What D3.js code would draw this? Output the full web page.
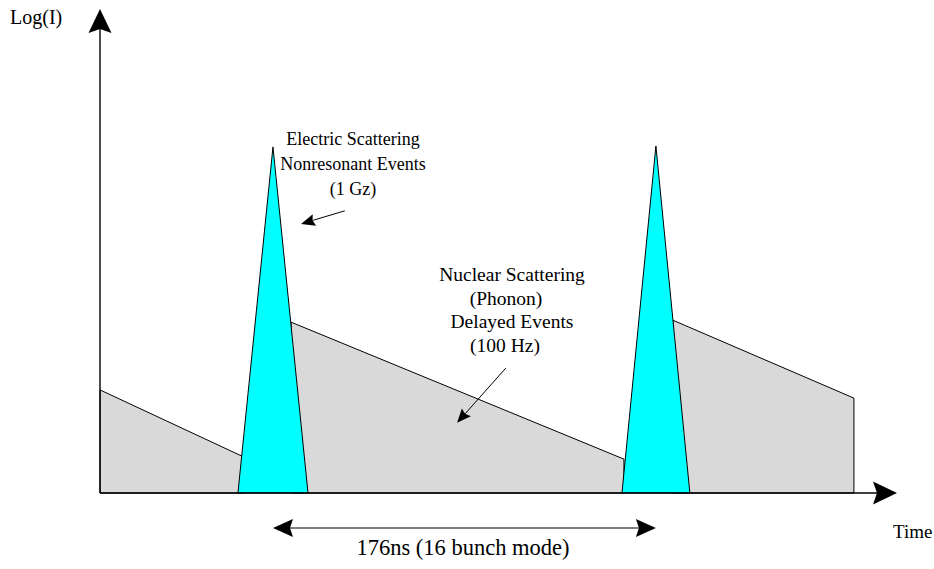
<!DOCTYPE html>
<html>
<head>
<meta charset="utf-8">
<script src="https://cdn.jsdelivr.net/npm/d3@7"></script>
<style>
  html, body { margin: 0; padding: 0; background: #fff; }
  svg { display: block; }
  text { font-family: "Liberation Serif", "Times New Roman", Times, serif; fill: #000; }
</style>
</head>
<body>
<svg id="chart" width="934" height="569"></svg>
<script>
// ---- data (time in ns, intensity in arbitrary log units) ----
const pulseTimes = [79.5, 255.5];          // bunch arrival times (ns)
const pulsePeaks = [71.5, 71.7];           // peak log intensity of prompt pulses
const pulseHalfWidths = [16.1, 15.6];      // half base width (ns)
const decayStarts = [[0, 21.3], [87.8, 35.3], [263.3, 35.7]];   // [t, logI]
const decayEnds   = [[65.3, 7.6], [240.8, 7.0], [346.5, 19.6]]; // [t, logI]
const electricLabel = ["Electric Scattering", "Nonresonant Events", "(1 Gz)"];
const nuclearLabel = ["Nuclear Scattering", "(Phonon)", "Delayed Events", "(100 Hz)"];
const axisLabels = ["Log(I)", "Time"];
const spacingLabel = "176ns (16 bunch mode)";
const electricArrow = [[112.5, 58.3], [92.4, 55.6]];
const nuclearArrow = [[186.5, 25.8], [164.1, 14.5]];

// ---- scales ----
const x = d3.scaleLinear().domain([0, 366.3]).range([100, 897]);
const y = d3.scaleLinear().domain([0, 100]).range([493, 9]);

const svg = d3.select("#chart");
const line = d3.line().x(d => x(d[0])).y(d => y(d[1]));

// gray decay regions
const decays = decayStarts.map((s, i) => {
  const e = decayEnds[i];
  return [[s[0], 0], s, e, [e[0], 0]];
});
svg.selectAll("path.decay").data(decays).join("path")
  .attr("class", "decay")
  .attr("d", d => line(d) + "Z")
  .attr("fill", "#d9d9d9")
  .attr("stroke", "#000")
  .attr("stroke-width", 1);

// cyan prompt pulses
const pulses = pulseTimes.map((t, i) => [
  [t - pulseHalfWidths[i], 0], [t, pulsePeaks[i]], [t + pulseHalfWidths[i], 0]
]);
svg.selectAll("path.pulse").data(pulses).join("path")
  .attr("class", "pulse")
  .attr("d", d => line(d) + "Z")
  .attr("fill", "#00ffff")
  .attr("stroke", "#000")
  .attr("stroke-width", 1);

// arrow helper (pixel space)
function arrow(g, p0, p1, len, hw, notch, width, both) {
  const dx = p1[0] - p0[0], dy = p1[1] - p0[1];
  const L = Math.hypot(dx, dy);
  const ux = dx / L, uy = dy / L, px = -uy, py = ux;
  const head = (tip, sx, sy) => {
    const bx = tip[0] - sx * len, by = tip[1] - sy * len;
    const pts = [
      [tip[0], tip[1]],
      [bx + px * hw, by + py * hw],
      [tip[0] - sx * (len - notch), tip[1] - sy * (len - notch)],
      [bx - px * hw, by - py * hw]
    ];
    g.append("path").attr("d", "M" + pts.map(p => p.join(",")).join("L") + "Z")
      .attr("fill", "#000").attr("stroke", "none");
  };
  const start = both ? [p0[0] + ux * (len - notch), p0[1] + uy * (len - notch)] : p0;
  const end = [p1[0] - ux * (len - notch), p1[1] - uy * (len - notch)];
  g.append("line").attr("x1", start[0]).attr("y1", start[1])
    .attr("x2", end[0]).attr("y2", end[1])
    .attr("stroke", "#000").attr("stroke-width", width);
  head(p1, ux, uy);
  if (both) head(p0, -ux, -uy);
}

const g = svg.append("g");
// axes
arrow(g, [x(0), y(0)], [x(0), y(100)], 24, 11.5, 4, 1.4, false);
arrow(g, [x(0), y(0)], [x(366.3), y(0)], 24, 11.5, 4, 1.4, false);

// spacing double arrow
arrow(g, [x(pulseTimes[0]), 528], [x(pulseTimes[1]), 528], 20, 9, 3, 1.2, true);

// annotation arrows
arrow(g, [x(electricArrow[0][0]), y(electricArrow[0][1])],
         [x(electricArrow[1][0]), y(electricArrow[1][1])], 14, 6, 2, 1, false);
arrow(g, [x(nuclearArrow[0][0]), y(nuclearArrow[0][1])],
         [x(nuclearArrow[1][0]), y(nuclearArrow[1][1])], 14, 6, 2, 1, false);

const serif = '"Liberation Serif", "Times New Roman", Times, serif';
// texts
svg.append("text").attr("x", 10).attr("y", 24).attr("font-size", 20)
  .attr("font-family", serif).text(axisLabels[0]);
svg.append("text").attr("x", 893).attr("y", 538).attr("font-size", 19)
  .attr("font-family", serif).text(axisLabels[1]);
svg.append("text").attr("x", 463).attr("y", 555)
  .attr("font-size", 22.5).attr("font-family", serif)
  .attr("text-anchor", "middle").text(spacingLabel);

const eBase = [145, 170, 195];
svg.selectAll("text.el").data(electricLabel).join("text")
  .attr("class", "el").attr("x", 353).attr("y", (d, i) => eBase[i])
  .attr("font-size", 18).attr("font-family", serif)
  .attr("text-anchor", "middle").text(d => d);

const nBase = [281, 305, 328, 352];
const nX = [512, 506, 512, 505];
svg.selectAll("text.nu").data(nuclearLabel).join("text")
  .attr("class", "nu").attr("x", (d, i) => nX[i]).attr("y", (d, i) => nBase[i])
  .attr("font-size", 19.5).attr("font-family", serif)
  .attr("text-anchor", "middle").text(d => d);
</script>
</body>
</html>
